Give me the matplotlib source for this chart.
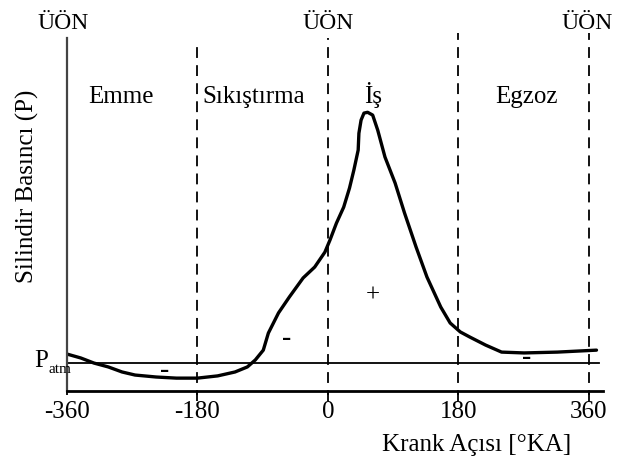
import matplotlib.pyplot as plt
import numpy as np

plt.rcParams['font.family'] = ['Liberation Serif', 'DejaVu Serif']

# crank angle [deg] and cylinder pressure (P_atm = 1)
angle = [-360, -341, -323, -303, -284, -266, -237, -209, -180, -152, -128,
         -111, -100, -89, -82, -68, -53, -34, -18, -4, 3, 12, 22, 30, 36, 42,
         43, 46, 50, 55, 62, 69, 79, 93, 106, 122, 137, 156, 169, 183, 196,
         218, 240, 271, 317, 371]
pressure = [1.32, 1.18, 1.0, 0.86, 0.68, 0.57, 0.5, 0.46, 0.46, 0.54, 0.68,
            0.86, 1.11, 1.46, 2.07, 2.79, 3.36, 4.04, 4.43, 4.96, 5.39, 6.0,
            6.57, 7.25, 7.89, 8.61, 9.21, 9.68, 9.93, 9.96, 9.86, 9.32, 8.36,
            7.43, 6.36, 5.14, 4.07, 3.0, 2.43, 2.11, 1.93, 1.64, 1.39, 1.36,
            1.39, 1.46]
p_atm = 1.0
tdc = [-366, 0, 358]
dividers = [-180, 0, 180, 360]
divider_tops = [12.5, 12.6, 12.8, 12.8]
phases = ['Emme', 'Sıkıştırma', 'İş', 'Egzoz']
phase_x = [-285, -102, 62, 274]
xticks = [-360, -180, 0, 180, 360]

fig = plt.figure(figsize=(6.2, 4.68), dpi=100)
ax = fig.add_axes([67 / 620, 77 / 468, 536 / 620, 361 / 468])
ax.set_xlim(-360, 380)
ax.set_ylim(0, 12.9)

ax.plot(angle, pressure, color='black', lw=2.4, solid_capstyle='round',
        solid_joinstyle='round')
ax.plot([-360, 375], [p_atm, p_atm], color='black', lw=1.3)
for x, top in zip(dividers, divider_tops):
    ax.plot([x, x], [-0.35, top], color='black', lw=1.3, ls=(0, (6, 4)),
            clip_on=False)

for s in ['top', 'right']:
    ax.spines[s].set_visible(False)
ax.spines['left'].set_bounds(0, 12.6)
ax.spines['left'].set_linewidth(1.6)
ax.spines['left'].set_color('#444444')
ax.spines['bottom'].set_linewidth(2.0)

ax.set_xticks(xticks)
ax.set_xticklabels([str(t) for t in xticks], fontsize=18)
ax.set_yticks([])
ax.tick_params(axis='x', direction='out', length=3, width=1.3, pad=4)

for x in tdc:
    ax.text(x, 13.15, 'ÜÖN', ha='center', va='center', fontsize=17,
            clip_on=False)
for name, x in zip(phases, phase_x):
    ax.text(x, 10.3, name, ha='center', va='baseline', fontsize=18)

ax.text(62, 3.4, '+', ha='center', va='center', fontsize=18)
for x, y in [(-225, 0.75), (-57, 1.86), (274, 1.18)]:
    ax.text(x, y, '-', ha='center', va='center', fontsize=20, fontweight='bold')

ax.text(-395, p_atm - 0.15, 'P', ha='center', va='baseline', fontsize=18,
        clip_on=False)
ax.text(-370, p_atm - 0.35, 'atm', ha='center', va='baseline', fontsize=11,
        clip_on=False)

ax.text(-414, 7.3, 'Silindir Basıncı (P)', rotation=90, ha='center',
        va='center', fontsize=18, clip_on=False)
ax.text(205, -1.93, 'Krank Açısı [°KA]', ha='center', va='center',
        fontsize=18, clip_on=False)

fig.savefig('out.png', dpi=100)
